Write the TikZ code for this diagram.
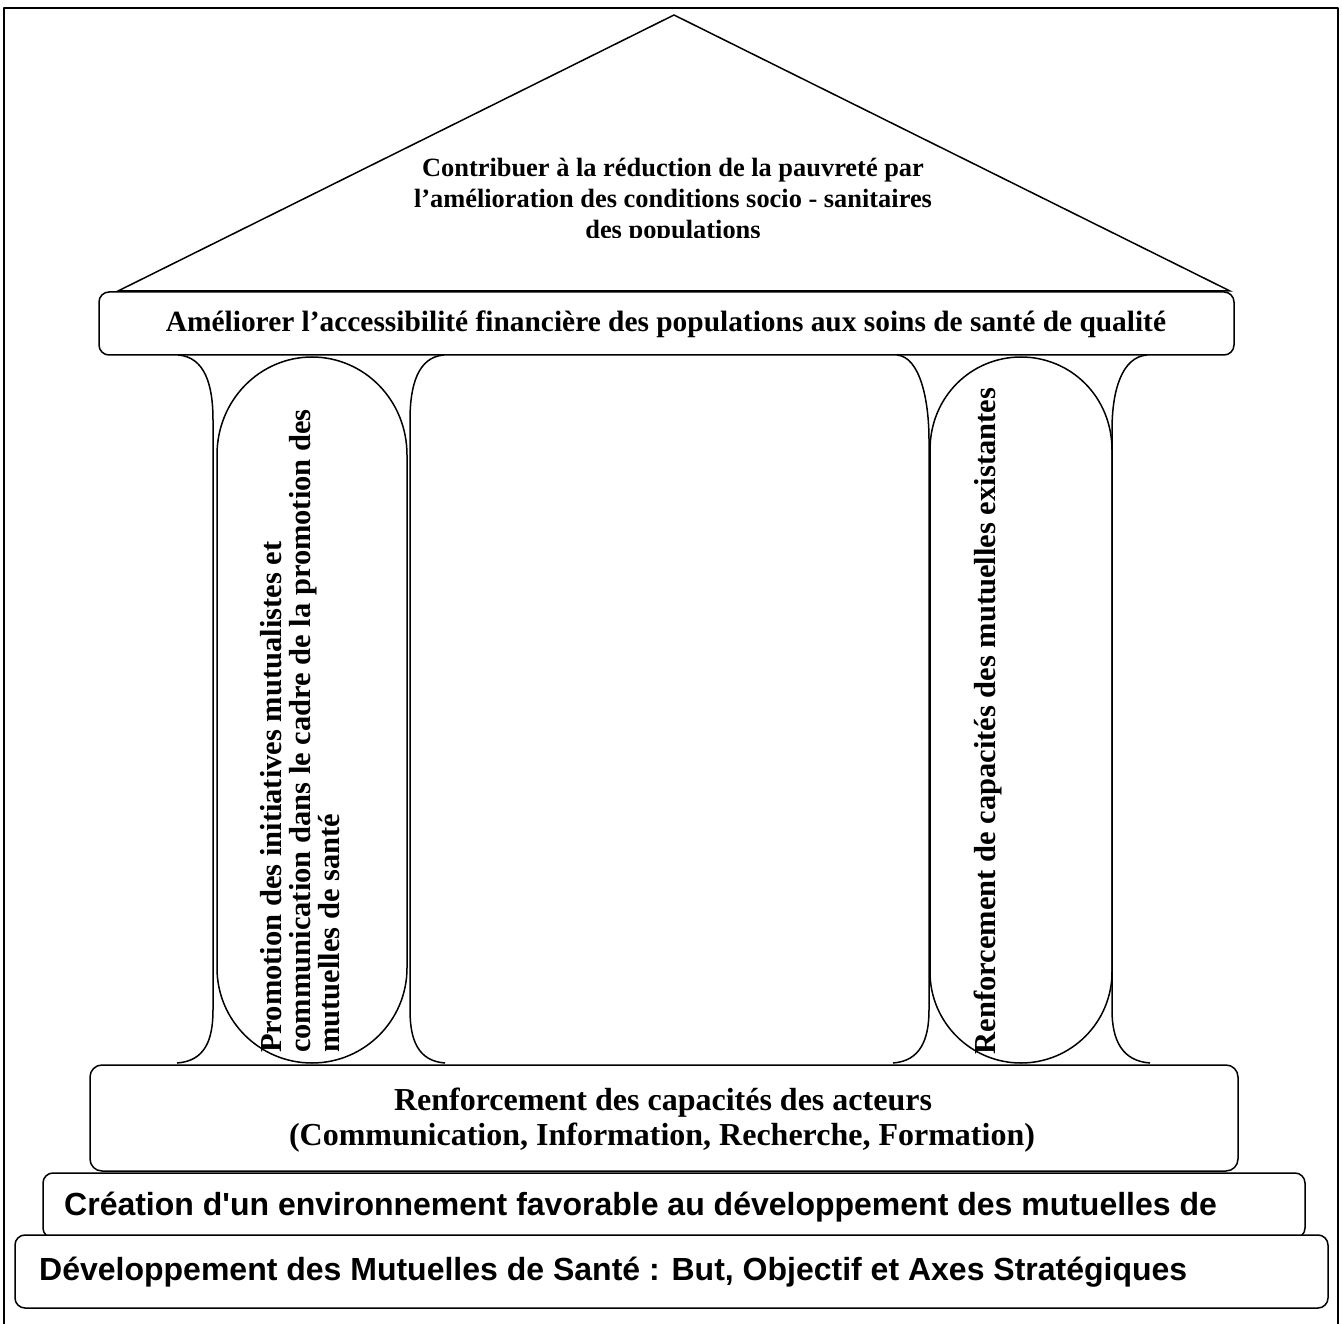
\documentclass[tikz,border=0pt]{standalone}
\usepackage{fontspec}
\setmainfont{Liberation Serif}
\newfontfamily\arialf{Liberation Sans}
\tikzset{
  edge/.style={line width=1.5pt, line join=round},
  boxr/.style={edge, rounded corners=10pt, fill=white},
  tri/.style={font=\bfseries\fontsize{26.4}{30}\selectfont, inner sep=0pt, anchor=base},
  topt/.style={font=\bfseries\fontsize{29.4}{32}\selectfont, inner sep=0pt, anchor=base},
  baset/.style={font=\bfseries\fontsize{32}{35}\selectfont, inner sep=0pt, anchor=base},
  vert/.style={font=\bfseries\fontsize{30.5}{29}\selectfont, inner sep=0pt, rotate=90, align=left},
  sanst/.style={font=\arialf\bfseries\fontsize{32}{35}\selectfont, inner sep=0pt, anchor=base west},
}
\begin{document}
\begin{tikzpicture}[x=1pt,y=-1pt]
\useasboundingbox (0,0) rectangle (1342,1324);
% outer frame
\draw[edge] (4,1324) -- (4,8) -- (1338,8) -- (1338,1324);
% roof
\draw[edge, line join=miter] (118,291) -- (674,15) -- (1230,291) -- cycle;
\begin{scope}
  \clip (0,130) rectangle (1342,238);
  \node[tri] (t1) at (673,177) {Contribuer à la réduction de la pauvreté par};
  \node[tri] (t2) at (673,208) {l’amélioration des conditions socio - sanitaires};
  \node[tri] (t3) at (673,239) {des populations};
\end{scope}
% objective beam
\draw[boxr] (99,292) rectangle (1234,355);
\node[topt] (obj) at (666,332) {Améliorer l’accessibilité financière des populations aux soins de santé de qualité};
% left column
\draw[edge] (178,355) .. controls (205,357) and (213,385) .. (213,420) -- (213,1010) .. controls (213,1040) and (205,1061) .. (177,1063);
\draw[edge] (444,355) .. controls (418,357) and (410,385) .. (410,420) -- (410,1010) .. controls (410,1040) and (418,1061) .. (445,1063);
\draw[edge] (217,455) .. controls (217,400) and (260,357) .. (312,357) .. controls (364,357) and (407,400) .. (407,455) -- (407,968) arc[start angle=0, end angle=180, radius=95] -- cycle;
\node[vert] (axe1) at (300,731) {Promotion des initiatives mutualistes et\\communication dans le cadre de la promotion des\\mutuelles de santé};
% right column
\draw[edge] (897,355) .. controls (920,357) and (929,400) .. (929,440) -- (929,1010) .. controls (929,1040) and (920,1061) .. (893,1063);
\draw[edge] (1147,355) .. controls (1122,357) and (1112,390) .. (1112,430) -- (1112,1010) .. controls (1112,1040) and (1122,1061) .. (1150,1063);
\draw[edge] (930,450) .. controls (930,397) and (971,357) .. (1021,357) .. controls (1071,357) and (1112,397) .. (1112,450) -- (1112,972) arc[start angle=0, end angle=180, radius=91] -- cycle;
\node[vert] (axe2) at (988,721) {Renforcement de capacités des mutuelles existantes};
% base boxes
\draw[boxr, rounded corners=12pt] (90,1065) rectangle (1238,1171);
\node[baset] (b1) at (663,1110) {Renforcement des capacités des acteurs};
\node[baset] (b2) at (662,1145) {(Communication, Information, Recherche, Formation)};
\draw[boxr] (43,1173) rectangle (1305,1238);
\node[sanst] (c1) at (64,1215) {Création d'un environnement favorable au développement des mutuelles de};
\draw[boxr] (15,1235) rectangle (1328,1308);
\node[sanst] (d1) at (39,1280) {Développement des Mutuelles de Santé : But, Objectif et Axes Stratégiques};
\end{tikzpicture}
\end{document}
